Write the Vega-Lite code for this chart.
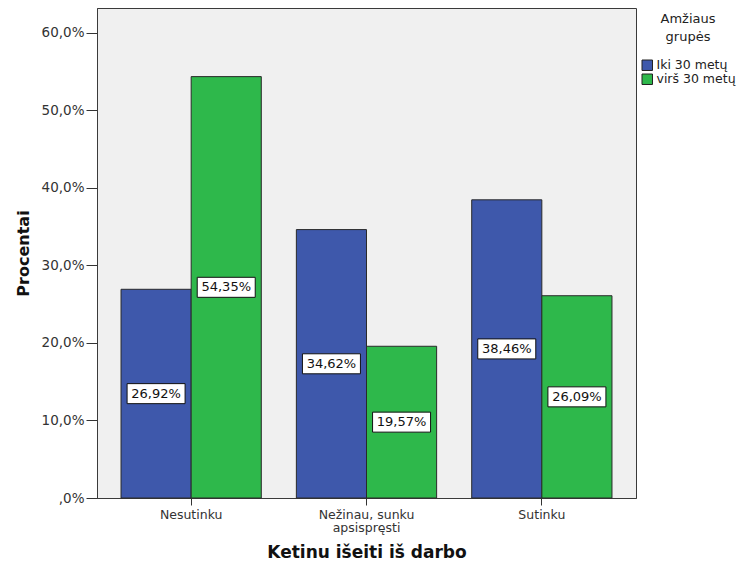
{
  "$schema": "https://vega.github.io/schema/vega-lite/v6.json",
  "autosize": "none",
  "width": 539,
  "height": 490,
  "padding": {"left": 97, "top": 8, "right": 103, "bottom": 64},
  "background": "white",
  "config": {
    "view": {"fill": "#f0f0f0", "stroke": "#3a3a3a", "strokeWidth": 1},
    "font": "DejaVu Sans"
  },
  "data": {
    "values": [
      {"cat": "Nesutinku", "grp": "Iki 30 metų", "v": 26.92},
      {"cat": "Nesutinku", "grp": "virš 30 metų", "v": 54.35},
      {"cat": "Nežinau, sunku apsispręsti", "grp": "Iki 30 metų", "v": 34.62},
      {"cat": "Nežinau, sunku apsispręsti", "grp": "virš 30 metų", "v": 19.57},
      {"cat": "Sutinku", "grp": "Iki 30 metų", "v": 38.46},
      {"cat": "Sutinku", "grp": "virš 30 metų", "v": 26.09}
    ]
  },
  "transform": [
    {"calculate": "datum.v / 2", "as": "mid"},
    {"calculate": "replace(format(datum.v, '.2f'), '.', ',') + '%'", "as": "lab"}
  ],
  "encoding": {
    "x": {
      "field": "cat",
      "type": "nominal",
      "sort": null,
      "scale": {"paddingInner": 0.2, "paddingOuter": 0.137},
      "axis": {
        "title": "Ketinu išeiti iš darbo",
        "titleFont": "DejaVu Sans",
        "titleFontWeight": "bold",
        "titleFontSize": 17,
        "titleColor": "#111",
        "titlePadding": 10,
        "labelAngle": 0,
        "labelFont": "DejaVu Sans",
        "labelFontSize": 12.5,
        "labelColor": "#333",
        "labelPadding": 3,
        "labelLineHeight": 13.5,
        "labelExpr": "datum.value == 'Nežinau, sunku apsispręsti' ? ['Nežinau, sunku', 'apsispręsti'] : datum.value",
        "tickSize": 7,
        "tickColor": "#333",
        "domainColor": "#3a3a3a"
      }
    },
    "xOffset": {
      "field": "grp",
      "type": "nominal",
      "scale": {"paddingInner": 0, "paddingOuter": 0}
    }
  },
  "layer": [
    {
      "mark": {"type": "bar", "stroke": "#2a2a2a", "strokeWidth": 1},
      "encoding": {
        "y": {
          "field": "v",
          "type": "quantitative",
          "scale": {"domain": [0, 63.2], "nice": false},
          "axis": {
            "title": "Procentai",
            "titleFont": "DejaVu Sans",
            "titleFontWeight": "bold",
            "titleFontSize": 16,
            "titleColor": "#111",
            "titlePadding": 10,
            "values": [0, 10, 20, 30, 40, 50, 60],
            "labelExpr": "datum.value == 0 ? ',0%' : replace(format(datum.value, '.1f'), '.', ',') + '%'",
            "labelFont": "DejaVu Sans",
            "labelFontSize": 13.5,
            "labelColor": "#333",
            "labelPadding": 2,
            "tickSize": 11,
            "tickColor": "#333",
            "domainColor": "#3a3a3a",
            "grid": false
          }
        },
        "color": {
          "field": "grp",
          "type": "nominal",
          "scale": {"domain": ["Iki 30 metų", "virš 30 metų"], "range": ["#3e58ab", "#2eb84b"]},
          "legend": {
            "title": ["Amžiaus", "grupės"],
            "orient": "right",
            "offset": 0,
            "padding": 5,
            "titleAnchor": "middle",
            "titleAlign": "center",
            "titleFont": "DejaVu Sans",
            "titleFontSize": 13,
            "titleFontWeight": "normal",
            "titleColor": "#222",
            "titleLineHeight": 18,
            "titlePadding": 15,
            "symbolType": "square",
            "symbolSize": 110,
            "symbolStrokeColor": "#222",
            "symbolStrokeWidth": 1,
            "symbolOpacity": 1,
            "labelFont": "DejaVu Sans",
            "labelFontSize": 12.5,
            "labelColor": "#222",
            "labelOffset": 3,
            "rowPadding": -2
          }
        }
      }
    },
    {
      "mark": {
        "type": "point",
        "shape": "M-1,-0.345L1,-0.345L1,0.345L-1,0.345Z",
        "size": 3364,
        "filled": true,
        "fill": "white",
        "stroke": "#111",
        "strokeWidth": 1,
        "opacity": 1
      },
      "encoding": {
        "y": {"field": "mid", "type": "quantitative"}
      }
    },
    {
      "mark": {
        "type": "text",
        "font": "DejaVu Sans",
        "fontSize": 13,
        "color": "#111",
        "align": "center",
        "baseline": "middle"
      },
      "encoding": {
        "y": {"field": "mid", "type": "quantitative"},
        "text": {"field": "lab"}
      }
    }
  ]
}
